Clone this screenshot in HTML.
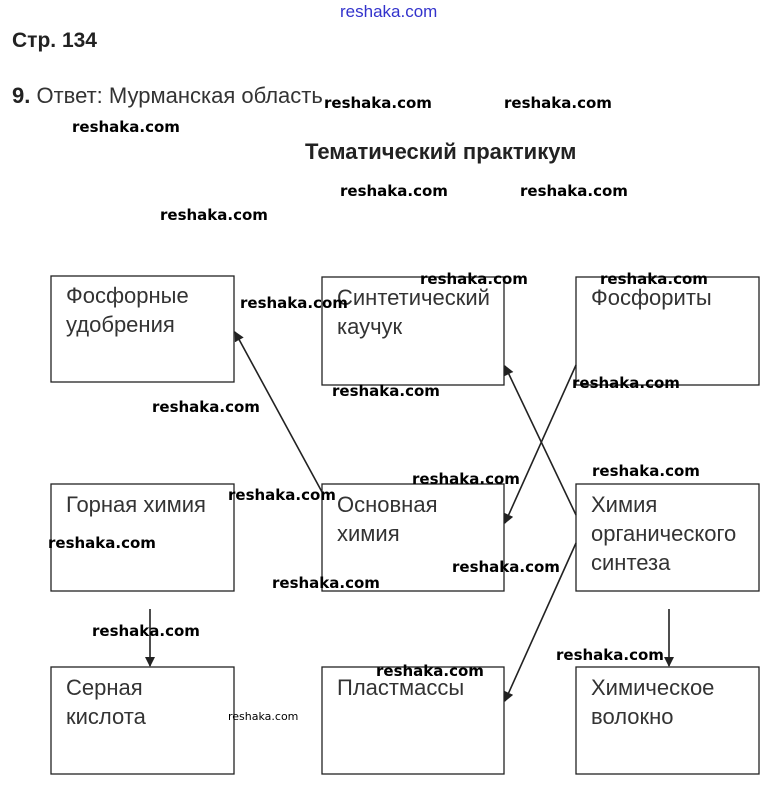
<!DOCTYPE html>
<html><head><meta charset="utf-8"><style>
html,body{margin:0;padding:0;background:#fff;width:775px;height:792px;overflow:hidden}
svg{display:block}
.b{fill:#fff;stroke:#222;stroke-width:1.3}
.t{font-family:"Liberation Sans","DejaVu Sans",sans-serif;font-size:22px;fill:#333}
.w{font-family:"DejaVu Sans","Liberation Sans",sans-serif;font-size:15px;font-weight:bold;fill:#000}
</style></head><body>
<svg width="775" height="792" viewBox="0 0 775 792" xmlns="http://www.w3.org/2000/svg">
<defs><marker id="a" markerWidth="10" markerHeight="10" refX="9" refY="5" orient="auto" markerUnits="userSpaceOnUse"><path d="M0,0 L10,5 L0,10 z" fill="#222"/></marker></defs>
<text x="340" y="17" font-family="Liberation Sans,sans-serif" font-size="17" fill="#3333cc">reshaka.com</text>
<text x="12" y="47" font-family="Liberation Sans,sans-serif" font-size="21" font-weight="bold" fill="#222">Стр. 134</text>
<text x="12" y="103" font-family="Liberation Sans,sans-serif" font-size="22" fill="#333"><tspan font-weight="bold" fill="#222">9.</tspan> Ответ: Мурманская область</text>
<text x="305" y="159" font-family="Liberation Sans,sans-serif" font-size="22" font-weight="bold" fill="#222">Тематический практикум</text>

<rect class="b" x="51" y="276" width="183" height="106"/>
<rect class="b" x="322" y="277" width="182" height="108"/>
<rect class="b" x="576" y="277" width="183" height="108"/>
<rect class="b" x="51" y="484" width="183" height="107"/>
<rect class="b" x="322" y="484" width="182" height="107"/>
<rect class="b" x="576" y="484" width="183" height="107"/>
<rect class="b" x="51" y="667" width="183" height="107"/>
<rect class="b" x="322" y="667" width="182" height="107"/>
<rect class="b" x="576" y="667" width="183" height="107"/>

<text class="t" x="66" y="303">Фосфорные</text><text class="t" x="66" y="332">удобрения</text>
<text class="t" x="337" y="305">Синтетический</text><text class="t" x="337" y="334">каучук</text>
<text class="t" x="591" y="305">Фосфориты</text>
<text class="t" x="66" y="512">Горная химия</text>
<text class="t" x="337" y="512">Основная</text><text class="t" x="337" y="541">химия</text>
<text class="t" x="591" y="512">Химия</text><text class="t" x="591" y="541">органического</text><text class="t" x="591" y="570">синтеза</text>
<text class="t" x="66" y="695">Серная</text><text class="t" x="66" y="724">кислота</text>
<text class="t" x="337" y="695">Пластмассы</text>
<text class="t" x="591" y="695">Химическое</text><text class="t" x="591" y="724">волокно</text>

<g stroke="#222" stroke-width="1.6" fill="none">
<line x1="322" y1="492" x2="235" y2="332" marker-end="url(#a)"/>
<line x1="576" y1="515" x2="505" y2="366" marker-end="url(#a)"/>
<line x1="576" y1="365" x2="505" y2="523" marker-end="url(#a)"/>
<line x1="576" y1="543" x2="505" y2="701" marker-end="url(#a)"/>
<line x1="150" y1="609" x2="150" y2="666" marker-end="url(#a)"/>
<line x1="669" y1="609" x2="669" y2="666" marker-end="url(#a)"/>
</g>

<text class="w" x="324" y="108">reshaka.com</text>
<text class="w" x="504" y="108">reshaka.com</text>
<text class="w" x="72" y="132">reshaka.com</text>
<text class="w" x="340" y="196">reshaka.com</text>
<text class="w" x="520" y="196">reshaka.com</text>
<text class="w" x="160" y="220">reshaka.com</text>
<text class="w" x="420" y="284">reshaka.com</text>
<text class="w" x="600" y="284">reshaka.com</text>
<text class="w" x="240" y="308">reshaka.com</text>
<text class="w" x="572" y="388">reshaka.com</text>
<text class="w" x="332" y="396">reshaka.com</text>
<text class="w" x="152" y="412">reshaka.com</text>
<text class="w" x="592" y="476">reshaka.com</text>
<text class="w" x="412" y="484">reshaka.com</text>
<text class="w" x="228" y="500">reshaka.com</text>
<text class="w" x="48" y="548">reshaka.com</text>
<text class="w" x="452" y="572">reshaka.com</text>
<text class="w" x="272" y="588">reshaka.com</text>
<text class="w" x="92" y="636">reshaka.com</text>
<text class="w" x="556" y="660">reshaka.com</text>
<text class="w" x="376" y="676">reshaka.com</text>
<text x="228" y="720" font-family="DejaVu Sans,sans-serif" font-size="11" fill="#000">reshaka.com</text>
</svg>
</body></html>
